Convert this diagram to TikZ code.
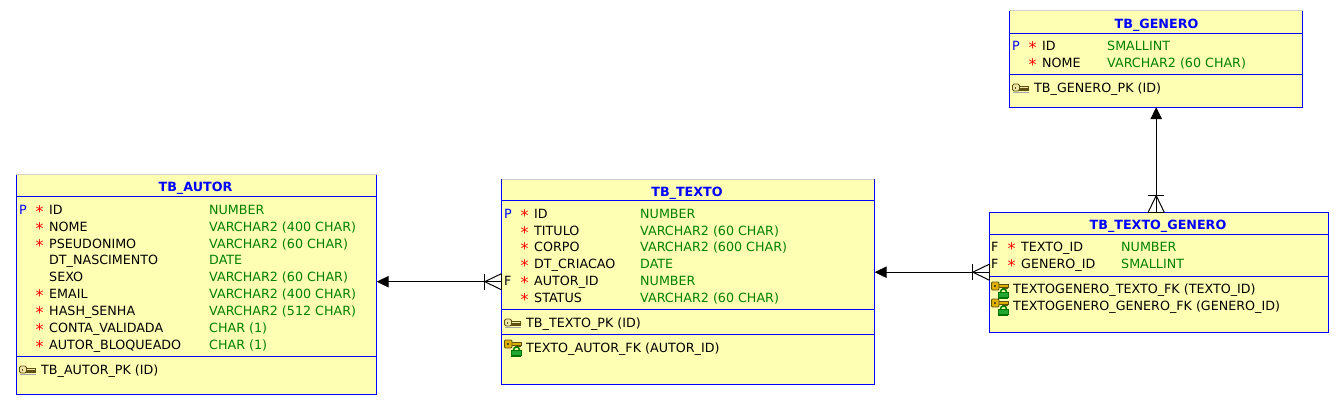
\documentclass[tikz,border=0pt]{standalone}
\usepackage{fontspec}
\setmainfont{DejaVu Sans}
\usetikzlibrary{arrows.meta}
\usetikzlibrary{positioning}

\definecolor{tbyellow}{HTML}{FFFFB4}
\definecolor{tbblue}{HTML}{0000FF}
\definecolor{tbgreen}{HTML}{008000}
\definecolor{tbred}{HTML}{FF0000}
\definecolor{tbgrey}{HTML}{D0D0C8}
\definecolor{keygold}{HTML}{E0B000}
\definecolor{keydark}{HTML}{5E5010}
\definecolor{keypale}{HTML}{F0E8A8}
\definecolor{lockgreen}{HTML}{20A830}

\newcommand{\pkflag}{\textcolor{tbblue}{P}}
\newcommand{\fkflag}{F}
\newcommand{\req}{\textcolor{tbred}{\fontsize{16}{16}\selectfont *}}

\tikzset{
	every node/.style={font=\fontsize{12.7}{14}\selectfont, inner sep=0pt},
	tbbox/.style={fill=tbyellow, draw=none},
	tbline/.style={draw=tbblue, line width=1pt},
	tbtop/.style={draw=tbgrey, line width=1pt},
	tbtitle/.style={anchor=base, text=tbblue, font=\fontsize{12.7}{14}\selectfont\bfseries},
	tbtext/.style={anchor=base west},
	tbtype/.style={anchor=base west, text=tbgreen},
	relation/.style={black, line width=1pt},
	tohead/.style={relation, -{Triangle[length=12pt,width=11.5pt]}},
	crowfoot/.pic={
		\draw[relation] (-8,0) -- (8,0);
		\draw[relation] (8,-16.5) -- (-8,-16.5);
		\draw[relation] (-8,0) -- (0,-16.5) -- (8,0);
	},
	keypk/.pic={
		\fill[black!35] (1,4) rectangle (16.5,5);
		\fill[keydark] (6,-1.2) rectangle (16.5,3);
		\fill[keypale] (6,-1) rectangle (15.5,0.8);
		\fill[keypale, draw=keydark, line width=0.8pt, rounded corners=1.5pt] (0.5,-3.5) rectangle (7.5,3.5);
		\fill[keydark] (2.5,-1) rectangle (4,1);
	},
	keyfk/.pic={
		\fill[keygold, draw=keydark, line width=0.6pt] (7,-4.5) rectangle (17,-1.5);
		\fill[keydark] (11,-1.5) rectangle (17,0);
		\fill[keygold, draw=keydark, line width=0.8pt, rounded corners=1pt] (0.5,-7) rectangle (8,1);
		\fill[keydark] (3,-4) rectangle (5,-2);
		\draw[black!50!green, line width=1.6pt] (9.5,3) arc (180:360:3);
		\fill[lockgreen, draw=black!55!green, line width=0.7pt] (7,3) rectangle (17,8.5);
		\fill[black!55!green] (7,8.5) rectangle (17,10);
	},
}

% columns of a table: baseline / flag / required / name / type
\newcommand{\tbrows}[4]{
	\foreach \y/\flag/\must/\col/\type [count=\i] in {#4} {
		\node[tbtext] (#1_flag\i) at (#2, \y) {\flag};
		\node[tbtext] (#1_req\i) at (#2+16.5, \y+3.7) {\must};
		\node[tbtext] (#1_col\i) at (#2+30, \y) {\col};
		\node[tbtype] (#1_type\i) at (#3, \y) {\type};
	}
}
% outline of a table, blue sides and bottom, #2 is the style of the top
\newcommand{\tbframe}[2]{
	\draw[#2] (#1.north west) -- (#1.north east);
	\draw[tbline] (#1.north west) -- (#1.south west) -- (#1.south east) -- (#1.north east);
}
\newcommand{\tbsep}[2]{
	\draw[tbline] (#1.west |- 0,#2) -- (#1.east |- 0,#2);
}

\begin{document}
\begin{tikzpicture}[x=1pt, y=-1pt]
	\useasboundingbox (0,0) rectangle (1342,407);

	\node[tbbox, minimum width=360pt, minimum height=219.5pt] (tb_autor) at (196.5,284.5) {};
	\node[tbbox, minimum width=373pt, minimum height=205pt] (tb_texto) at (688,281.7) {};
	\node[tbbox, minimum width=292.7pt, minimum height=96pt] (tb_genero) at (1156.2,59) {};
	\node[tbbox, minimum width=339pt, minimum height=119.7pt] (tb_texto_genero) at (1159,272.2) {};

	\tbframe{tb_autor}{tbtop}
	\tbsep{tb_autor}{196.5}
	\tbsep{tb_autor}{356.3}
	\tbframe{tb_texto}{tbtop}
	\tbsep{tb_texto}{200.3}
	\tbsep{tb_texto}{309.3}
	\tbsep{tb_texto}{334.3}
	\tbframe{tb_genero}{tbtop}
	\tbsep{tb_genero}{33.3}
	\tbsep{tb_genero}{74.7}
	\tbframe{tb_texto_genero}{tbline}
	\tbsep{tb_texto_genero}{234.3}
	\tbsep{tb_texto_genero}{276.3}

	\node[tbtitle] (title_autor) at (195.5,191.5) {TB\_AUTOR};
	\node[tbtitle] (title_texto) at (687,196) {TB\_TEXTO};
	\node[tbtitle] (title_genero) at (1156.5,28) {TB\_GENERO};
	\node[tbtitle] (title_texto_genero) at (1158,229) {TB\_TEXTO\_GENERO};

	\tbrows{autor}{19}{209}{
		214/\pkflag/\req/ID/NUMBER,
		231//\req/NOME/VARCHAR2 (400 CHAR),
		248//\req/PSEUDONIMO/VARCHAR2 (60 CHAR),
		264///DT\_NASCIMENTO/DATE,
		281///SEXO/VARCHAR2 (60 CHAR),
		298//\req/EMAIL/VARCHAR2 (400 CHAR),
		315//\req/HASH\_SENHA/VARCHAR2 (512 CHAR),
		332//\req/CONTA\_VALIDADA/CHAR (1),
		349//\req/AUTOR\_BLOQUEADO/CHAR (1)}
	\tbrows{texto}{504}{640}{
		218/\pkflag/\req/ID/NUMBER,
		235//\req/TITULO/VARCHAR2 (60 CHAR),
		251//\req/CORPO/VARCHAR2 (600 CHAR),
		268//\req/DT\_CRIACAO/DATE,
		285/\fkflag/\req/AUTOR\_ID/NUMBER,
		302//\req/STATUS/VARCHAR2 (60 CHAR)}
	\tbrows{genero}{1012}{1107}{
		50/\pkflag/\req/ID/SMALLINT,
		67//\req/NOME/VARCHAR2 (60 CHAR)}
	\tbrows{texto_genero}{991}{1121}{
		251/\fkflag/\req/TEXTO\_ID/NUMBER,
		268/\fkflag/\req/GENERO\_ID/SMALLINT}

	\pic at (19,369.5) {keypk};
	\node[tbtext] (pk_autor) at (41,374) {TB\_AUTOR\_PK (ID)};
	\pic at (504,322.5) {keypk};
	\node[tbtext] (pk_texto) at (526,327) {TB\_TEXTO\_PK (ID)};
	\pic at (1012,87.5) {keypk};
	\node[tbtext] (pk_genero) at (1034,92) {TB\_GENERO\_PK (ID)};

	\pic at (504,347) {keyfk};
	\node[tbtext] (fk_autor) at (526,352) {TEXTO\_AUTOR\_FK (AUTOR\_ID)};
	\pic at (991,289) {keyfk};
	\node[tbtext] (fk_texto) at (1013,293) {TEXTOGENERO\_TEXTO\_FK (TEXTO\_ID)};
	\pic at (991,306) {keyfk};
	\node[tbtext] (fk_genero) at (1013,310) {TEXTOGENERO\_GENERO\_FK (GENERO\_ID)};

	% relations
	\draw[tohead] (tb_texto.west) -- (tb_texto.west -| tb_autor.east);
	\pic[rotate=90] at (tb_texto.west) {crowfoot};
	\draw[tohead] (tb_texto_genero.west) -- (tb_texto_genero.west -| tb_texto.east);
	\pic[rotate=90] at (tb_texto_genero.west) {crowfoot};
	\draw[tohead] (tb_genero.south |- tb_texto_genero.north) -- (tb_genero.south);
	\pic at (tb_genero.south |- tb_texto_genero.north) {crowfoot};
\end{tikzpicture}
\end{document}
